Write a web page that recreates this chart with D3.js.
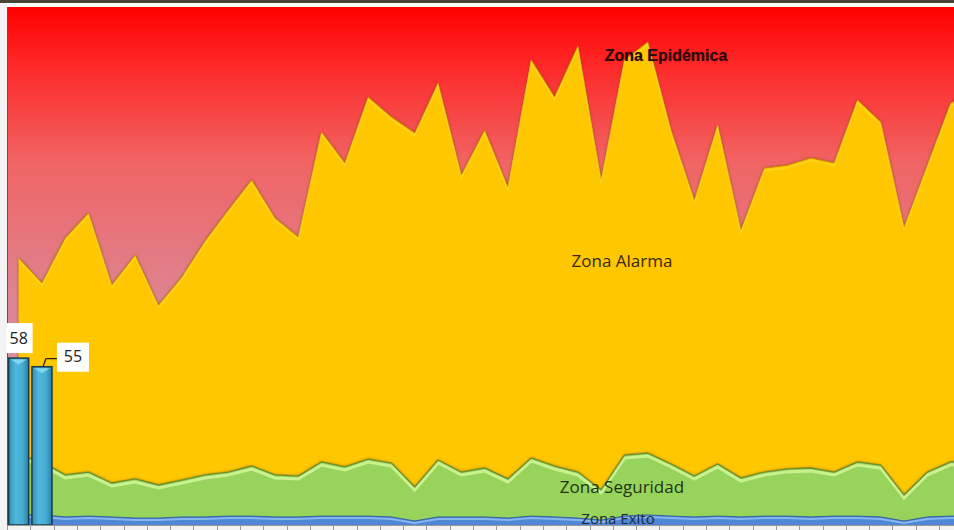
<!DOCTYPE html>
<html>
<head>
<meta charset="utf-8">
<script src="https://cdn.jsdelivr.net/npm/d3@7/dist/d3.min.js"></script>
<style>
  html, body { margin: 0; padding: 0; background: #f3f3f3; }
  svg { display: block; }
</style>
</head>
<body>
<script>
// ---- DATA ----
const weeks = ["1","2","3","4","5","6","7","8","9","10","11","12","13","14","15","16","17","18","19","20","21","22","23","24","25","26","27","28","29","30","31","32","33","34","35","36","37","38","39","40","41","42"];
// Upper limit of Zona Alarma (yellow)
const alarma = [92.8,84.1,99.7,108.4,83.4,93.8,76.4,86.1,98.7,109.5,119.9,106.7,100.1,136.6,125.8,148.7,141.8,136.2,153.6,121.6,137.2,117.4,161.6,148.7,166.4,119.9,161.6,167.8,137.2,112.9,139.0,102.5,124.0,125.0,127.5,125.8,147.7,140.0,103.5,125.0,146.6,150.0];
// Upper limit of Zona Seguridad (green)
const seguridad = [24.3,21.9,17.4,18.4,14.6,16.0,13.9,15.6,17.4,18.4,20.5,17.4,17.0,21.9,20.2,22.9,21.5,13.2,22.6,18.4,19.8,16.0,23.3,20.5,18.4,12.2,24.3,25.0,21.2,17.0,21.2,16.3,18.4,19.5,19.8,18.4,21.9,20.8,10.4,18.4,21.9,22.5];
// Upper limit of Zona Exito (blue)
const exito = [3.5,3.5,2.8,3.1,2.8,2.4,2.4,2.8,2.8,3.1,3.1,2.8,2.8,3.1,3.1,3.1,2.8,1.4,2.8,2.8,2.8,2.4,3.1,2.8,2.4,1.7,3.1,3.5,3.1,2.8,3.1,2.8,3.1,3.1,2.8,3.1,3.1,2.8,1.4,2.8,3.1,3.1];
// Cases of current year
const casosWeeks = ["1","2"];
const casos = [58,55];
const yMax = 180;
const zoneLabels = ["Zona Epidémica","Zona Alarma","Zona Seguridad","Zona Exito"];

// ---- LAYOUT ----
const W = 954, H = 530;
const L = 7, T = 7, B = 525, step = 23.3;

const svg = d3.select("body").append("svg").attr("width", W).attr("height", H);
const defs = svg.append("defs");

const grad = defs.append("linearGradient").attr("id","bg").attr("gradientUnits","userSpaceOnUse")
  .attr("x1",0).attr("y1",T).attr("x2",0).attr("y2",B);
[[0,"#ff0000"],[0.1,"#ff2424"],[0.3,"#f16464"],[0.57,"#dd8592"],[1,"#d3a2b4"]].forEach(s=>
  grad.append("stop").attr("offset",s[0]).attr("stop-color",s[1]));

const barGrad = defs.append("linearGradient").attr("id","barg").attr("x1",0).attr("x2",1).attr("y1",0).attr("y2",0);
[[0,"#2f8fb5"],[0.35,"#4fb8dc"],[0.7,"#45acd2"],[1,"#2a7fa3"]].forEach(s=>
  barGrad.append("stop").attr("offset",s[0]).attr("stop-color",s[1]));

const sh = defs.append("filter").attr("id","sh").attr("x","-5%").attr("y","-5%").attr("width","110%").attr("height","110%");
sh.append("feDropShadow").attr("dx",0).attr("dy",0).attr("stdDeviation",1.8)
  .attr("flood-color","#7a3a00").attr("flood-opacity",0.8);

const clip = defs.append("clipPath").attr("id","plot");
clip.append("rect").attr("x",L).attr("y",T).attr("width",W-L).attr("height",B-T);

// frame pieces
svg.append("rect").attr("x",0).attr("y",0).attr("width",W).attr("height",3).attr("fill","#4a4536");
svg.append("rect").attr("x",L).attr("y",3).attr("width",W-L).attr("height",4).attr("fill","#ffffff");

// scales
const x = d3.scaleBand().domain(weeks).range([L, L + step*weeks.length]).paddingInner(0).paddingOuter(0);
const y = d3.scaleLinear().domain([0, yMax]).range([B, T]);
const cx = d => x(d) + x.bandwidth()/2;

const g = svg.append("g").attr("clip-path","url(#plot)");
g.append("rect").attr("x",L).attr("y",T).attr("width",W-L).attr("height",B-T).attr("fill","url(#bg)");

const area = vals => d3.area().x((d,i)=>cx(weeks[i])).y0(y(0)).y1(d=>y(d))(vals);
const line = vals => d3.line().x((d,i)=>cx(weeks[i])).y(d=>y(d))(vals);

// yellow
g.append("path").attr("d", area(alarma)).attr("fill","#ffc700").attr("filter","url(#sh)");
g.append("path").attr("d", line(alarma)).attr("fill","none").attr("stroke","#c88a00").attr("stroke-width",1).attr("opacity",0.8);
g.append("path").attr("d", line(alarma)).attr("fill","none").attr("stroke","#ffe24a").attr("stroke-width",1.5)
  .attr("transform","translate(0,2.5)").attr("opacity",0.45);

// green
g.append("path").attr("d", area(seguridad)).attr("fill","#98d35c").attr("filter","url(#sh)");
g.append("path").attr("d", line(seguridad)).attr("fill","none").attr("stroke","#c9f28e").attr("stroke-width",3)
  .attr("transform","translate(0,3)");
g.append("path").attr("d", line(seguridad)).attr("fill","none").attr("stroke","#6f8f2c").attr("stroke-width",1.3);

// blue
g.append("path").attr("d", area(exito)).attr("fill","#4f86d6");
g.append("path").attr("d", line(exito)).attr("fill","none").attr("stroke","#86b6f0").attr("stroke-width",2)
  .attr("transform","translate(0,2)");
g.append("path").attr("d", line(exito)).attr("fill","none").attr("stroke","#35609e").attr("stroke-width",1);

// bars
const bw = x.bandwidth()*0.86, boff = x.bandwidth()*0.07;
g.selectAll("rect.bar").data(casos).join("rect").attr("class","bar")
  .attr("x",(d,i)=>x(casosWeeks[i])+boff).attr("width",bw)
  .attr("y",d=>y(d)).attr("height",d=>y(0)-y(d))
  .attr("fill","url(#barg)").attr("stroke","#1c3a48").attr("stroke-width",1.5);
g.selectAll("path.cap").data(casos).join("path").attr("class","cap")
  .attr("d",(d,i)=>{const x0=x(casosWeeks[i])+boff+2, x1=x0+bw-4, yy=y(d)+1.5;
     return `M${x0},${yy}L${x1},${yy}L${(x0+x1)/2},${yy+5}Z`;})
  .attr("fill","#8fe0f5").attr("opacity",0.8);

// x axis ticks
const axisG = svg.append("g");
axisG.append("line").attr("x1",L).attr("x2",W).attr("y1",B+0.5).attr("y2",B+0.5).attr("stroke","#9a9a9a");
const tickXs = weeks.map(w=>x(w));
axisG.selectAll("line.tk").data(tickXs).join("line").attr("class","tk")
  .attr("x1",d=>Math.round(d)+0.5).attr("x2",d=>Math.round(d)+0.5).attr("y1",B).attr("y2",H)
  .attr("stroke","#9a9a9a");
svg.append("line").attr("x1",L+0.5).attr("x2",L+0.5).attr("y1",T).attr("y2",B).attr("stroke","#b03040").attr("stroke-width",1);

// data labels
const lab = svg.append("g").attr("font-family","'Open Sans', sans-serif").attr("font-size",16).attr("fill","#222");
// 58
const b1x = cx(casosWeeks[0]), b1y = y(casos[0]);
lab.append("rect").attr("x",b1x-12).attr("y",b1y-35).attr("width",26).attr("height",30).attr("fill","#fff");
lab.append("text").attr("x",b1x).attr("y",b1y-18).attr("text-anchor","middle").attr("dominant-baseline","middle").text(casos[0]);
// 55
const b2x = cx(casosWeeks[1]), b2y = y(casos[1]);
lab.append("path").attr("d",`M${b2x+1},${b2y}L${b2x+4},${b2y-8}L${b2x+15},${b2y-8}`).attr("fill","none").attr("stroke","#222").attr("stroke-width",1.2);
lab.append("rect").attr("x",b2x+15).attr("y",b2y-24).attr("width",32).attr("height",29).attr("fill","#fff");
lab.append("text").attr("x",b2x+31).attr("y",b2y-9).attr("text-anchor","middle").attr("dominant-baseline","middle").text(casos[1]);

// zone labels
svg.append("text").attr("x",666).attr("y",57).attr("text-anchor","middle").attr("dominant-baseline","middle")
  .attr("font-family","'Liberation Sans', Arial, sans-serif").attr("font-weight","bold").attr("font-size",16)
  .attr("fill","#2a0808").style("text-shadow","0 0 1px rgba(80,0,0,0.5)").text(zoneLabels[0]);
const zl = svg.append("g").attr("font-family","'Open Sans', sans-serif").attr("font-size",17).attr("text-anchor","middle").attr("fill","#2e2a0c");
zl.append("text").attr("x",622).attr("y",262).attr("dominant-baseline","middle").attr("fill","#3a2600").text(zoneLabels[1]);
zl.append("text").attr("x",622).attr("y",488).attr("dominant-baseline","middle").attr("fill","#21330e").text(zoneLabels[2]);
zl.append("text").attr("x",618).attr("y",524).attr("font-size",15).attr("fill","#1b2a3a").text(zoneLabels[3]);
</script>
</body>
</html>
